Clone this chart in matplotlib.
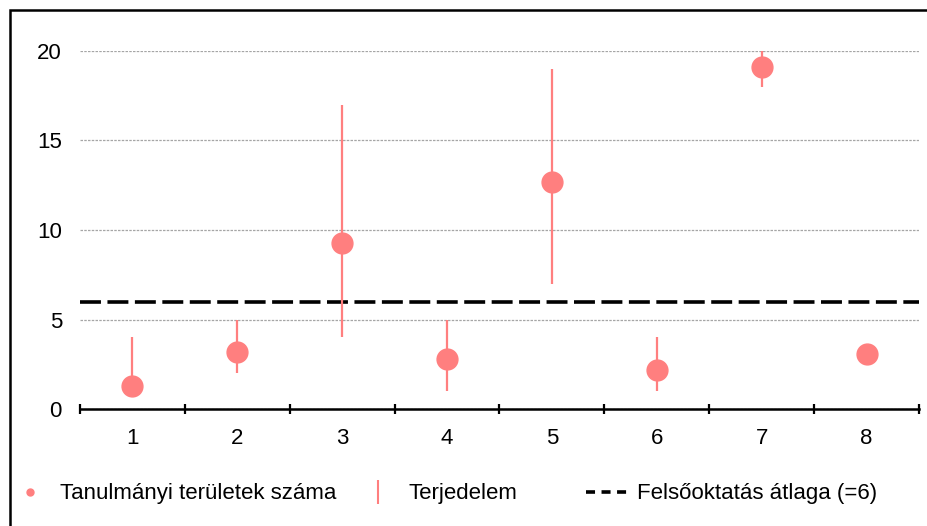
import matplotlib.pyplot as plt
from matplotlib.lines import Line2D

plt.rcParams['font.family'] = ['Liberation Sans', 'DejaVu Sans']

categories = [1, 2, 3, 4, 5, 6, 7, 8]
counts = [1.3, 3.2, 9.3, 2.8, 12.7, 2.2, 19.1, 3.1]
range_min = [1, 2, 4, 1, 7, 1, 18, 3]
range_max = [4, 5, 17, 5, 19, 4, 20, 3]
average = 6
y_ticks = [0, 5, 10, 15, 20]

pink = '#FF7F7F'

fig = plt.figure(figsize=(9.28, 5.26), dpi=100)
ax = fig.add_axes([80 / 928, 1 - 409 / 526, 839 / 928, 358 / 526])

ax.vlines(categories, range_min, range_max, color=pink, lw=1.6, zorder=3, clip_on=False)
ax.plot(categories, counts, 'o', color=pink, markersize=15, zorder=4, clip_on=False)
ax.axhline(average, color='black', lw=2.6, dashes=(5.8, 1.8), zorder=2)

ax.set_xlim(0.5, 8.5)
ax.set_ylim(0, 20)
ax.set_yticks(y_ticks)
ax.set_xticks(categories)
ax.set_xticks([c - 0.5 for c in categories] + [8.5], minor=True)
ax.tick_params(axis='x', which='major', length=0, pad=14, labelsize=16)
ax.tick_params(axis='x', which='minor', direction='inout', length=7, width=1.6)
ax.tick_params(axis='y', length=0, pad=13, labelsize=16)

for s in ['left', 'right', 'top']:
    ax.spines[s].set_visible(False)
ax.spines['bottom'].set_linewidth(1.8)
ax.spines['bottom'].set_zorder(5)

ax.yaxis.grid(True, color='#a6a6a6', lw=0.9, linestyle=(0, (2, 1)))
ax.set_axisbelow(True)

# legend: three separate entries placed like the original
h1 = Line2D([], [], marker='o', ls='none', color=pink, markersize=5)
h2 = Line2D([], [], marker='|', ls='none', color=pink, markersize=17, mew=1.5)
h3 = Line2D([], [], color='black', lw=2.6, dashes=(2.5, 1.8))
entries = [(h1, 'Tanulmányi területek száma', 9),
           (h2, 'Terjedelem', 357),
           (h3, 'Felsőoktatás átlaga (=6)', 586)]
for h, lab, xpx in entries:
    fig.legend([h], [lab], loc='center left', bbox_to_anchor=(xpx / 928, 1 - 494 / 526),
               frameon=False, fontsize=16, handlelength=1.9, handletextpad=0.4,
               borderpad=0, borderaxespad=0)

# outer frame (only left and top edges fall inside the image)
fx, fy = 10 / 928, 1 - 10 / 526
fig.add_artist(Line2D([fx, fx, 1.02], [-0.02, fy, fy], transform=fig.transFigure,
                      color='black', lw=1.8, solid_joinstyle='miter', clip_on=False))

fig.savefig('out.png', dpi=100)
